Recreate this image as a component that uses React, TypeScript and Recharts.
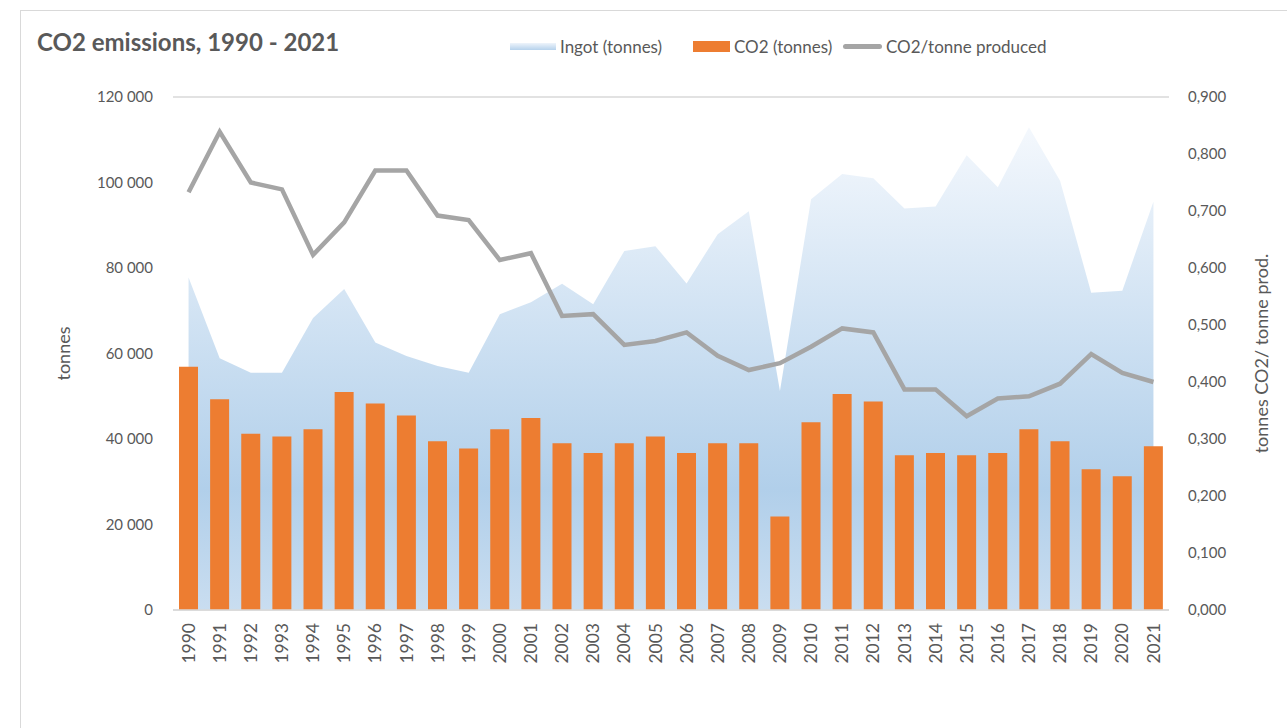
import React from "react";
import {
  ComposedChart,
  Area,
  Bar,
  Line,
  XAxis,
  YAxis,
  CartesianGrid,
} from "recharts";

const years = [
  "1990", "1991", "1992", "1993", "1994", "1995", "1996", "1997", "1998", "1999",
  "2000", "2001", "2002", "2003", "2004", "2005", "2006", "2007", "2008", "2009",
  "2010", "2011", "2012", "2013", "2014", "2015", "2016", "2017", "2018", "2019",
  "2020", "2021",
];

const ingot = [
  77800, 58900, 55500, 55500, 68300, 75100, 62600, 59400, 57100, 55500,
  69200, 72000, 76300, 71500, 84000, 85100, 76400, 87900, 93300, 51200,
  96100, 102000, 101000, 93900, 94400, 106400, 98900, 112900, 100400, 74200,
  74700, 95500,
];

const co2 = [
  56900, 49300, 41200, 40600, 42300, 51000, 48300, 45500, 39500, 37800,
  42300, 44900, 39000, 36700, 39000, 40600, 36700, 39000, 39000, 21900,
  43900, 50500, 48800, 36200, 36700, 36200, 36700, 42300, 39500, 32900,
  31300, 38300,
];

const perTonne = [
  0.733, 0.839, 0.750, 0.738, 0.623, 0.680, 0.771, 0.771, 0.692, 0.684,
  0.614, 0.626, 0.516, 0.519, 0.465, 0.472, 0.487, 0.446, 0.421, 0.433,
  0.462, 0.494, 0.487, 0.387, 0.387, 0.340, 0.371, 0.375, 0.397, 0.449,
  0.416, 0.400,
];

const leftTicks = [0, 20000, 40000, 60000, 80000, 100000, 120000];
const rightTicks = [0, 0.1, 0.2, 0.3, 0.4, 0.5, 0.6, 0.7, 0.8, 0.9];

const data = years.map((year, i) => ({
  year,
  ingot: ingot[i],
  co2: co2[i],
  perTonne: perTonne[i],
}));

const FONT = "Lato, 'Open Sans', sans-serif";
const GREY = "#595959";

const fmtThousands = (v: number) =>
  v === 0 ? "0" : v.toString().replace(/\B(?=(\d{3})+(?!\d))/g, " ");
const fmtRatio = (v: number) => v.toFixed(3).replace(".", ",");

function YearTick(props: any) {
  const { x, y, payload } = props;
  return (
    <g transform={`translate(${x},${y})`}>
      <text
        x={0}
        y={0}
        dy="0.35em"
        textAnchor="end"
        transform="rotate(-90)"
        fill={GREY}
        fontSize={17.5}
        fontFamily={FONT}
      >
        {payload.value}
      </text>
    </g>
  );
}

// legend drawn as plain html, so it doesn't push the plot down
function LegendBox() {
  const label: React.CSSProperties = {
    position: "absolute",
    top: 36,
    fontSize: 17,
    color: GREY,
    fontFamily: FONT,
    lineHeight: "21px",
    whiteSpace: "nowrap",
  };
  return (
    <>
      <div
        style={{
          position: "absolute",
          left: 510,
          top: 43,
          width: 46,
          height: 7,
          background: "linear-gradient(#eef4fb, #b6d2ec)",
        }}
      />
      <span style={{ ...label, left: 560 }}>Ingot (tonnes)</span>
      <div
        style={{
          position: "absolute",
          left: 693,
          top: 41,
          width: 37,
          height: 11,
          background: "#ED7D31",
        }}
      />
      <span style={{ ...label, left: 734 }}>CO2 (tonnes)</span>
      <div
        style={{
          position: "absolute",
          left: 843,
          top: 44,
          width: 39,
          height: 5,
          borderRadius: 3,
          background: "#A5A5A5",
        }}
      />
      <span style={{ ...label, left: 886 }}>CO2/tonne produced</span>
    </>
  );
}

export default function App() {
  return (
    <div
      style={{
        position: "absolute",
        left: 0,
        top: 0,
        width: 1287,
        height: 728,
        overflow: "hidden",
        background: "#fff",
      }}
    >
      <div
        style={{
          position: "absolute",
          left: 20,
          top: 10,
          width: 1300,
          height: 760,
          border: "1.5px solid #d9d9d9",
        }}
      />
      <div
        style={{
          position: "absolute",
          left: 37,
          top: 27,
          fontSize: 24,
          fontWeight: 700,
          color: GREY,
          fontFamily: FONT,
        }}
      >
        CO2 emissions, 1990 - 2021
      </div>
      <LegendBox />
      <div style={{ position: "absolute", left: 0, top: 0 }}>
        <ComposedChart
          width={1287}
          height={728}
          data={data}
          margin={{ top: 97, right: 0, bottom: 0, left: 0 }}
        >
          <defs>
            <linearGradient id="ingotFill" x1="0" y1="0" x2="0" y2="1">
              <stop offset="0" stopColor="#f4f8fd" />
              <stop offset="0.75" stopColor="#b1cfea" />
              <stop offset="1" stopColor="#c9ddf0" />
            </linearGradient>
          </defs>
          <CartesianGrid vertical={false} stroke="#d9d9d9" strokeWidth={1.5} />
          <XAxis
            dataKey="year"
            height={118}
            interval={0}
            tick={<YearTick />}
            tickLine={false}
            tickSize={11}
            tickMargin={2}
            axisLine={{ stroke: "#d9d9d9", strokeWidth: 1.5 }}
          />
          <YAxis
            yAxisId="left"
            width={173}
            domain={[0, 120000]}
            ticks={leftTicks}
            tickFormatter={fmtThousands}
            axisLine={false}
            tickLine={false}
            tickSize={18}
            tick={{ fill: GREY, fontSize: 15, fontFamily: FONT }}
            label={{
              value: "tonnes",
              angle: -90,
              position: "insideLeft",
              offset: 64,
              style: { fill: GREY, fontSize: 18, fontFamily: FONT, textAnchor: "middle" },
            }}
          />
          <YAxis
            yAxisId="right"
            orientation="right"
            width={118}
            domain={[0, 0.9]}
            ticks={rightTicks}
            tickFormatter={fmtRatio}
            axisLine={false}
            tickLine={false}
            tickSize={17}
            tick={{ fill: GREY, fontSize: 15, fontFamily: FONT }}
            label={{
              value: "tonnes CO2/ tonne prod.",
              angle: -90,
              position: "insideRight",
              offset: 25,
              style: { fill: GREY, fontSize: 18, fontFamily: FONT, textAnchor: "middle" },
            }}
          />
          <Area
            yAxisId="left"
            type="linear"
            dataKey="ingot"
            name="Ingot (tonnes)"
            stroke="none"
            fill="url(#ingotFill)"
            fillOpacity={1}
            isAnimationActive={false}
          />
          <Bar
            yAxisId="left"
            dataKey="co2"
            name="CO2 (tonnes)"
            fill="#ED7D31"
            barSize={19}
            isAnimationActive={false}
          />
          <Line
            yAxisId="right"
            type="linear"
            dataKey="perTonne"
            name="CO2/tonne produced"
            stroke="#A5A5A5"
            strokeWidth={4.5}
            dot={false}
            isAnimationActive={false}
          />
        </ComposedChart>
      </div>
    </div>
  );
}
